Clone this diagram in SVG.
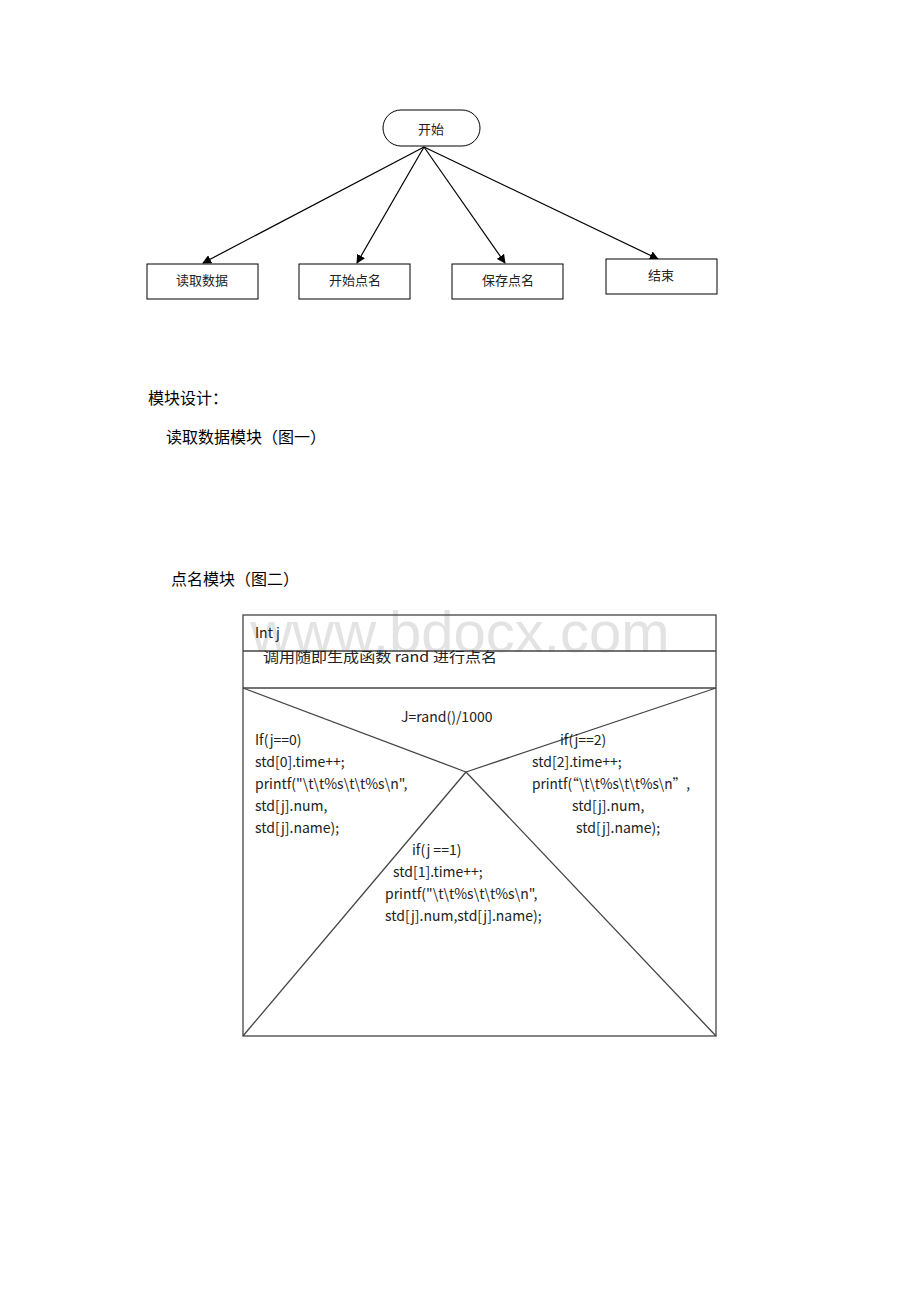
<svg xmlns="http://www.w3.org/2000/svg" width="920" height="1302" viewBox="0 0 920 1302">
<style>
.box{fill:#fff;stroke:#000;stroke-width:1}
.lbl{font-family:"Noto Sans CJK SC","Noto Sans",sans-serif;font-size:13px;fill:#222;text-anchor:middle;dominant-baseline:central}
.h{font-family:"Liberation Serif","Noto Sans CJK SC",serif;font-size:16px;fill:#000}
.c{font-family:"Noto Sans CJK SC","Noto Sans",sans-serif;font-size:14px;fill:#222}
.conn{stroke:#000;stroke-width:1.2;fill:none;marker-end:url(#ah)}
.frame{stroke:#444;stroke-width:1.3;fill:none}
</style>
<defs>
<marker id="ah" viewBox="0 0 10 10" refX="9" refY="5" markerWidth="9" markerHeight="9" markerUnits="userSpaceOnUse" orient="auto"><path d="M0,0 L10,5 L0,10 z" fill="#000"/></marker>
</defs>
<rect width="920" height="1302" fill="#fff"/>
<text x="460" y="652" font-family="Liberation Sans,sans-serif" font-size="58" fill="#e3e3e3" text-anchor="middle">www.bdocx.com</text>
<g id="connectors">
<line class="conn" x1="424" y1="147" x2="203" y2="263"/>
<line class="conn" x1="424" y1="147" x2="357" y2="263"/>
<line class="conn" x1="424" y1="147" x2="505" y2="263"/>
<line class="conn" x1="424" y1="147" x2="658" y2="259"/>
</g>
<g id="start"><rect class="box" x="383" y="110" width="97" height="36" rx="18"/><text class="lbl" x="431" y="128" font-size="12">开始</text></g>
<g id="read"><rect class="box" x="147" y="264" width="111" height="35"/><text class="lbl" x="202" y="279">读取数据</text></g>
<g id="callname"><rect class="box" x="299" y="264" width="111" height="35"/><text class="lbl" x="355" y="279">开始点名</text></g>
<g id="save"><rect class="box" x="452" y="264" width="111" height="35"/><text class="lbl" x="508" y="279">保存点名</text></g>
<g id="end"><rect class="box" x="606" y="259" width="111" height="35"/><text class="lbl" x="661" y="274">结束</text></g>
<g id="headings">
<text class="h" x="148" y="404">模块设计：</text>
<text class="h" x="166" y="443">读取数据模块（图一）</text>
<text class="h" x="171" y="585">点名模块（图二）</text>
</g>
<g id="nsdiagram">
<rect class="frame" x="243" y="615" width="473" height="421"/>
<line class="frame" x1="243" y1="651" x2="716" y2="651"/>
<line class="frame" x1="243" y1="688" x2="716" y2="688"/>
<line class="frame" x1="243" y1="688" x2="466" y2="772"/>
<line class="frame" x1="716" y1="688" x2="466" y2="772"/>
<line class="frame" x1="466" y1="772" x2="243" y2="1036"/>
<line class="frame" x1="466" y1="772" x2="716" y2="1036"/>
<text class="c" x="255" y="638">Int j</text>
<text class="c" x="263" y="662" font-size="15" textLength="234" lengthAdjust="spacingAndGlyphs">调用随即生成函数 rand 进行点名</text>
<text class="c" x="401" y="722">J=rand()/1000</text>
<text class="c" x="255" y="745">If(j==0)</text>
<text class="c" x="255" y="767">std[0].time++;</text>
<text class="c" x="255" y="789">printf("\t\t%s\t\t%s\n",</text>
<text class="c" x="255" y="811">std[j].num,</text>
<text class="c" x="255" y="833">std[j].name);</text>
<text class="c" x="560" y="745">if(j==2)</text>
<text class="c" x="532" y="767">std[2].time++;</text>
<text class="c" x="532" y="789" textLength="158" lengthAdjust="spacingAndGlyphs">printf(“\t\t%s\t\t%s\n”,</text>
<text class="c" x="572" y="811">std[j].num,</text>
<text class="c" x="576" y="833">std[j].name);</text>
<text class="c" x="412" y="855">if(j ==1)</text>
<text class="c" x="393" y="877">std[1].time++;</text>
<text class="c" x="385" y="899">printf("\t\t%s\t\t%s\n",</text>
<text class="c" x="385" y="921">std[j].num,std[j].name);</text>
</g>
</svg>
